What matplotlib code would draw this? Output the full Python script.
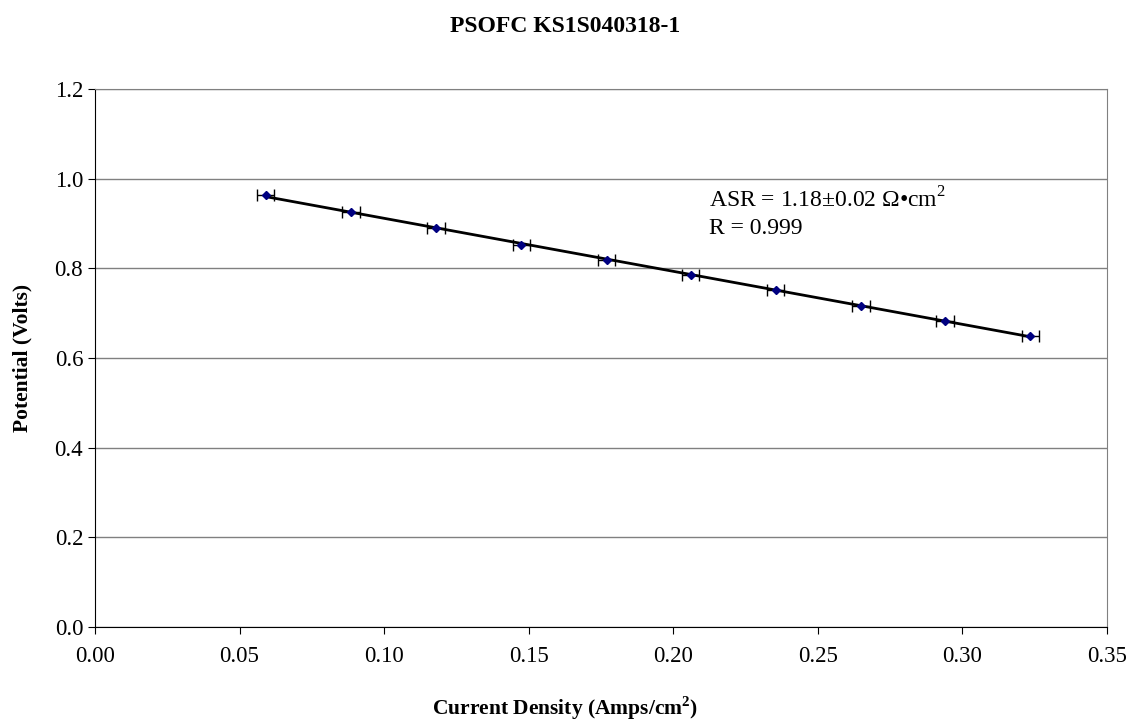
import numpy as np
import matplotlib.pyplot as plt

# current density (A/cm2) and potential (V)
current = [0.0590, 0.0885, 0.1180, 0.1475, 0.1770, 0.2060, 0.2355, 0.2650, 0.2940, 0.3235]
potential = [0.964, 0.925, 0.889, 0.853, 0.819, 0.785, 0.751, 0.717, 0.683, 0.649]
xerr = [0.003] * len(current)

plt.rcParams['font.family'] = ['Liberation Serif', 'DejaVu Serif']
plt.rcParams['mathtext.fontset'] = 'custom'
plt.rcParams['mathtext.rm'] = 'Liberation Serif'
plt.rcParams['mathtext.bf'] = 'Liberation Serif:bold'

fig = plt.figure(figsize=(11.31, 7.21), dpi=100)
ax = fig.add_axes([0.084, 0.1304, 0.8946, 0.7462])

# linear fit
slope, intercept = np.polyfit(current, potential, 1)
xf = np.array([min(current), max(current)])
ax.plot(xf, slope * xf + intercept, color='black', lw=2, zorder=3)

ax.errorbar(current, potential, xerr=xerr, fmt='D', ms=4, color='#000080',
            ecolor='black', elinewidth=1, capsize=4, capthick=1, zorder=4)

ax.set_xlim(0, 0.35)
ax.set_ylim(0, 1.2)
ax.set_xticks(np.arange(0, 0.351, 0.05))
ax.set_xticklabels(['%.2f' % v for v in np.arange(0, 0.351, 0.05)])
ax.set_yticks(np.arange(0, 1.21, 0.2))
ax.set_yticklabels(['%.1f' % v for v in np.arange(0, 1.21, 0.2)])
ax.yaxis.grid(True, color='#808080', lw=1)
ax.set_axisbelow(True)
ax.tick_params(direction='out', length=5, labelsize=16.5, color='black')
ax.tick_params(axis='x', pad=9)
for s in ['top', 'right']:
    ax.spines[s].set_color('#808080')
for s in ['left', 'bottom']:
    ax.spines[s].set_color('black')

ax.text(0.2125, 0.935, 'ASR = 1.18\u00b10.02 \u03a9\u2022cm$^2$', fontsize=17)
ax.text(0.2125, 0.876, 'R = 0.999', fontsize=17)

fig.text(0.5, 0.018, 'Current Density (Amps/cm$^\\mathbf{2}$)', fontsize=15.5,
         fontweight='bold', ha='center', va='center')
fig.text(0.0195, 0.503, 'Potential (Volts)', fontsize=15.5, fontweight='bold',
         rotation=90, ha='center', va='center')
fig.suptitle('PSOFC KS1S040318-1', fontsize=17, fontweight='bold', y=0.978)

plt.savefig('out.png', dpi=100)
